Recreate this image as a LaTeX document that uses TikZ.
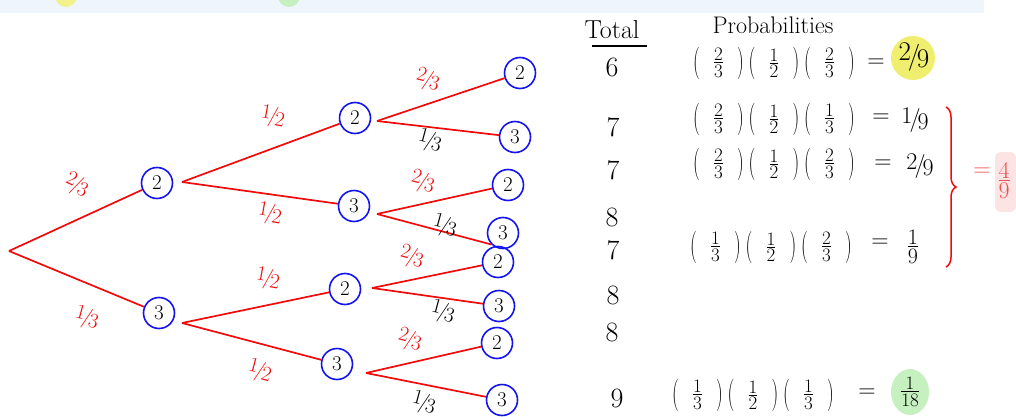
\documentclass[tikz,border=0pt]{standalone}
\usepackage{graphicx}
\usepackage{fontspec}
\usetikzlibrary{decorations.pathreplacing}
\definecolor{bandblue}{RGB}{238,245,252}
\definecolor{hlyellow}{RGB}{240,238,110}
\definecolor{hlgreen}{RGB}{198,240,192}
\definecolor{hlpink}{RGB}{253,228,228}
\definecolor{penred}{RGB}{240,10,10}
\definecolor{penblue}{RGB}{20,20,240}
\definecolor{softred}{RGB}{240,80,80}
\newcommand{\sfr}[2]{\raisebox{0.3ex}{#1}\kern-0.12em/\kern-0.12em\raisebox{-0.3ex}{#2}}
\newcommand{\vfr}[2]{$\vcenter{\halign{\hfil##\hfil\cr #1\cr\noalign{\kern1.5pt\hrule height 0.9pt\kern1.5pt}#2\cr}}$}
\newcommand{\lp}{$\vcenter{\hbox{\scalebox{1}[1.7]{(}}}$}
\newcommand{\rp}{$\vcenter{\hbox{\scalebox{1}[1.7]{)}}}$}
\newcommand{\pf}[2]{\lp\kern0.75em\vfr{#1}{#2}\kern0.75em\rp\kern0.25em}
\tikzset{
  outc/.style={draw=penblue, line width=1.6pt, circle, minimum size=31pt, inner sep=0pt, font=\fontsize{21}{21}\selectfont},
  edge/.style={draw=penred, line width=1.7pt},
  elab/.style={text=penred, font=\fontsize{21}{21}\selectfont, inner sep=0pt},
  blab/.style={text=black, font=\fontsize{21}{21}\selectfont, inner sep=0pt},
  tot/.style={font=\fontsize{28}{28}\selectfont, inner sep=0pt},
  prod/.style={font=\fontsize{19}{19}\selectfont, inner sep=0pt, anchor=west},
  res/.style={font=\fontsize{24}{24}\selectfont, inner sep=0pt}
}
\begin{document}
\begin{tikzpicture}[x=1pt,y=-1pt]
\useasboundingbox (0,0) rectangle (1016,417);
% top band with partial highlights
\begin{scope}
\clip (0,0) rectangle (1016,417);
\fill[bandblue] (0,0) rectangle (984,13);
\fill[hlyellow!80!white] (66,-4) ellipse (11 and 11);
\fill[hlgreen] (289,-4) ellipse (11 and 11);
\end{scope}
% highlights
\fill[hlyellow] (913,58) circle (22);
\fill[hlgreen] (910,392) ellipse (19 and 23);
\fill[hlpink, rounded corners=6pt] (995,152) rectangle (1016,212);

% tree
\coordinate (root) at (9,251);
\node[outc] (a) at (157,183) {2};
\node[outc] (b) at (159,313) {3};
\coordinate (fa) at (182,182);
\coordinate (fb) at (182,323);
\node[outc] (aa) at (355,118) {2};
\node[outc] (ab) at (354,206) {3};
\node[outc] (ba) at (345,289) {2};
\node[outc] (bb) at (337,364) {3};
\coordinate (faa) at (377,121);
\coordinate (fab) at (377,214);
\coordinate (fba) at (372,288);
\coordinate (fbb) at (366,373);
\node[outc] (aaa) at (520,73) {2};
\node[outc] (aab) at (515,137) {3};
\node[outc] (aba) at (508,185) {2};
\node[outc] (abb) at (503,233) {3};
\node[outc] (baa) at (498,262) {2};
\node[outc] (bab) at (499,306) {3};
\node[outc] (bba) at (497,343) {2};
\node[outc] (bbb) at (502,400) {3};

\draw[edge] (root) -- (a);
\draw[edge] (root) -- (b);
\draw[edge] (fa) -- (aa);
\draw[edge] (fa) -- (ab);
\draw[edge] (fb) -- (ba);
\draw[edge] (fb) -- (bb);
\draw[edge] (faa) -- (aaa);
\draw[edge] (faa) -- (aab);
\draw[edge] (fab) -- (aba);
\draw[edge] (fab) -- (abb.south west);
\draw[edge] (fba) -- (baa);
\draw[edge] (fba) -- (bab);
\draw[edge] (fbb) -- (bba);
\draw[edge] (fbb) -- (bbb);

% branch labels
\node[elab, rotate=-25] at (77,185) {\sfr{2}{3}};
\node[elab, rotate=-15] at (87,318) {\sfr{1}{3}};
\node[elab, rotate=-10] at (273,117) {\sfr{1}{2}};
\node[elab, rotate=-10] at (270,214) {\sfr{1}{2}};
\node[elab, rotate=-10] at (268,279) {\sfr{1}{2}};
\node[elab, rotate=-15] at (260,371) {\sfr{1}{2}};
\node[elab, rotate=-15] at (428,80) {\sfr{2}{3}};
\node[elab, rotate=-15] at (423,182) {\sfr{2}{3}};
\node[elab, rotate=-15] at (412,257) {\sfr{2}{3}};
\node[elab, rotate=-15] at (410,340) {\sfr{2}{3}};
\node[blab, rotate=-15] at (430,141) {\sfr{1}{3}};
\node[blab, rotate=-15] at (445,226) {\sfr{1}{3}};
\node[blab, rotate=-15] at (443,312) {\sfr{1}{3}};
\node[blab, rotate=-15] at (424,403) {\sfr{1}{3}};

% totals
\node[font=\fontsize{26}{26}\selectfont, inner sep=0pt] (ttl) at (612,30) {Total};
\draw[line width=1.3pt] (592,46) -- (647,46);
\node[tot] (t1) at (612,67) {6};
\node[tot] (t2) at (613,127) {7};
\node[tot] (t3) at (613,170) {7};
\node[tot] (t4) at (612,217) {8};
\node[tot] (t5) at (613,250) {7};
\node[tot] (t6) at (613,295) {8};
\node[tot] (t7) at (612,332) {8};
\node[tot] (t8) at (617,398) {9};

% probabilities
\node[font=\fontsize{24}{24}\selectfont, inner sep=0pt] (ptl) at (773,25) {Probabilities};
\node[prod] (p1) at (693,63) {\pf{2}{3}\pf{1}{2}\pf{2}{3}};
\node[res] (e1) at (876,63) {=};
\node[res, font=\fontsize{27}{27}\selectfont] (r1) at (914,57) {\sfr{2}{9}};
\node[prod] (p2) at (693,119) {\pf{2}{3}\pf{1}{2}\pf{1}{3}};
\node[res] (e2) at (881,118) {=};
\node[res] (r2) at (915,120) {\sfr{1}{9}};
\node[prod] (p3) at (693,164) {\pf{2}{3}\pf{1}{2}\pf{2}{3}};
\node[res] (e3) at (883,164) {=};
\node[res] (r3) at (920,166) {\sfr{2}{9}};
\node[prod] (p4) at (690,247) {\pf{1}{3}\pf{1}{2}\pf{2}{3}};
\node[res] (e4) at (880,243) {=};
\node[prod, anchor=center, font=\fontsize{22}{22}\selectfont] (r4) at (913,247) {\vfr{1}{9}};
\node[prod] (p5) at (672,395) {\pf{1}{3}\pf{1}{2}\pf{1}{3}};
\node[res] (e5) at (867,393) {=};
\node[prod, anchor=center, font=\fontsize{19}{19}\selectfont] (r5) at (910,392) {\vfr{1}{18}};

% brace
\draw[penred, line width=1.5pt, decorate, decoration={brace, amplitude=10pt}] (946,107) -- (946,267);
\node[res, text=softred] (eq) at (982,172) {=};
\node[prod, anchor=center, font=\fontsize{24}{24}\selectfont, text=softred] (sum) at (1004,181) {\color{softred}\vfr{4}{9}};
\end{tikzpicture}
\end{document}
